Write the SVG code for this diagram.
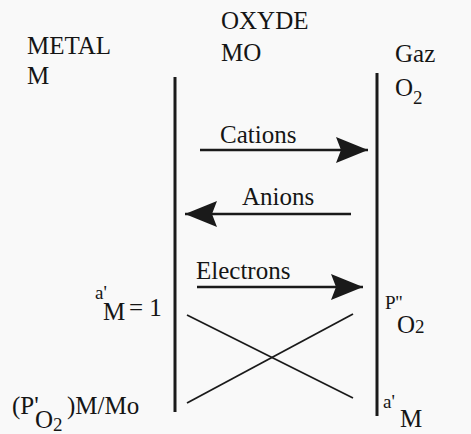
<svg xmlns="http://www.w3.org/2000/svg" width="471" height="434" viewBox="0 0 471 434" font-family="Liberation Serif">
<defs>
<style>
text{font-family:'Liberation Serif',serif;fill:#151515;font-size:25px}
.sm{font-size:19px}
.wall{stroke:#1a1a1a;stroke-width:3;fill:none}
.arr{stroke:#1a1a1a;stroke-width:2.5;fill:none;marker-end:url(#head)}
.x{stroke:#1a1a1a;stroke-width:1.8;fill:none}
</style>
<marker id="head" markerUnits="userSpaceOnUse" markerWidth="34" markerHeight="28" refX="32" refY="13" orient="auto">
<path d="M0,0 L32,13 L0,26 L5,13 z" fill="#1a1a1a"/>
</marker>
</defs>
<rect width="471" height="434" fill="#f9f9f9"/>
<g id="metal">
<text x="27" y="54">METAL</text>
<text x="27" y="84">M</text>
</g>
<g id="oxyde">
<text x="221" y="29">OXYDE</text>
<text x="221" y="61">MO</text>
</g>
<g id="gaz">
<text x="395" y="62">Gaz</text>
<text x="395" y="96">O<tspan class="sm" dy="8">2</tspan></text>
</g>
<g id="connectors">
<line class="wall" x1="175" y1="77" x2="175" y2="412"/>
<line class="wall" x1="377" y1="73" x2="377" y2="416"/>
<line class="arr" x1="200" y1="150" x2="368" y2="150"/>
<line class="arr" x1="351" y1="214" x2="185" y2="214"/>
<line class="arr" x1="197" y1="287" x2="363" y2="287"/>
<line class="x" x1="187" y1="315" x2="353" y2="398"/>
<line class="x" x1="187" y1="403" x2="353" y2="314"/>
</g>
<g id="flux-labels">
<text x="220" y="143">Cations</text>
<text x="242" y="205">Anions</text>
<text x="196" y="279">Electrons</text>
</g>
<g id="left-labels">
<text class="sm" x="95" y="299">a'</text>
<text x="103" y="320">M</text>
<text x="129" y="316">= 1</text>
<text x="12" y="414">(P'</text>
<text x="35" y="428">O</text>
<text class="sm" x="53" y="431">2</text>
<text x="67" y="414">)M/Mo</text>
</g>
<g id="right-labels">
<text class="sm" x="385" y="309">P''</text>
<text x="397" y="333">O</text>
<text class="sm" x="415" y="333">2</text>
<text class="sm" x="383" y="408">a'</text>
<text x="400" y="427">M</text>
</g>
</svg>
